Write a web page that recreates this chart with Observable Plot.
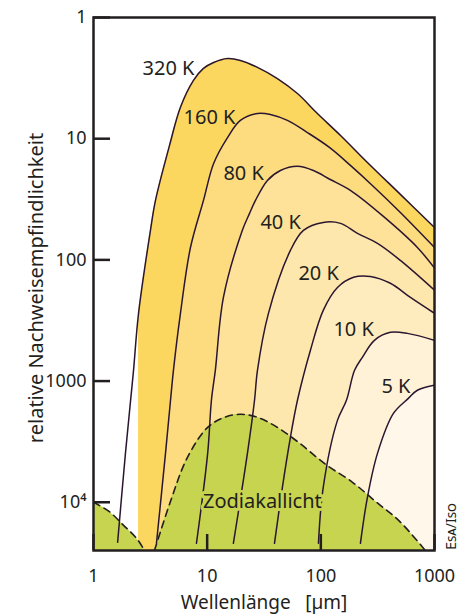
<!DOCTYPE html>
<html>
<head>
<meta charset="utf-8">
<script src="https://cdn.jsdelivr.net/npm/d3@7"></script>
<script src="https://cdn.jsdelivr.net/npm/@observablehq/plot@0.6"></script>
<style>
  html, body { margin: 0; padding: 0; background: #ffffff; }
  svg { display: block; }
</style>
</head>
<body>
<div id="chart"></div>
<script>
// Wavelength (µm) and relative detection sensitivity for black bodies
const tempLabels = ["320 K", "160 K", "80 K", "40 K", "20 K", "10 K", "5 K"];

const curve320 = [[1.63, 21400], [1.91, 3950], [2.12, 1440], [2.25, 815], [2.49, 276], [3.17, 57], [3.51, 32.3],
  [4.66, 11.4], [5.82, 5.5], [7.58, 3.3], [9.28, 2.63], [11.4, 2.35], [15.1, 2.18], [19.6, 2.26], [27.7, 2.58],
  [41.5, 3.19], [62.3, 4.24], [93.3, 6.2], [149, 9.4], [257, 15.7], [501, 28.8], [1000, 54]];
const curve160 = [[3.58, 21800], [4.30, 3950], [4.76, 1440], [5.05, 815], [5.82, 276], [7.13, 79], [9.28, 32.3],
  [11.4, 16.0], [15.1, 9.8], [19.6, 7.07], [27.7, 6.19], [36.0, 6.31], [50.8, 7.07], [76.2, 8.9], [119, 11.8],
  [182, 16.6], [284, 24.3], [501, 40.6], [1000, 79]];
const curve80 = [[8.05, 21800], [10.1, 3950], [10.9, 1440], [11.8, 815], [13.9, 204], [20.4, 57], [23.6, 41.3],
  [26.6, 32.3], [33.9, 22.1], [44.1, 18.3], [62.3, 16.9], [86.1, 18.3], [121, 21.7], [182, 26.7], [355, 43.8],
  [707, 79], [1000, 117]];
const curve40 = [[17.0, 21800], [22.6, 3950], [26.1, 1440], [27.7, 815], [34.6, 276], [54.0, 83.5], [70.3, 57.1],
  [105, 49.1], [149, 50.0], [210, 60.5], [315, 73.1], [501, 101], [1000, 178]];
const curve20 = [[39.1, 21800], [45.9, 7520], [54.0, 2910], [62.3, 1440], [81.0, 557], [105, 261], [140, 169],
  [194, 139], [273, 137], [409, 156], [614, 204], [1000, 276]];
const curve10 = [[95.3, 21800], [105, 7520], [140, 2110], [168, 1440], [198, 815], [232, 637], [296, 461],
  [409, 396], [578, 404], [1000, 461]];
const curve5 = [[223, 21800], [257, 9100], [315, 3950], [435, 1850], [589, 1390], [707, 1190], [1000, 1080]];

const curves = [curve320, curve160, curve80, curve40, curve20, curve10, curve5];

// Zodiacal light background
const zodiLeft = [[1, 10000], [1.37, 11900], [1.84, 15500], [2.39, 19800], [2.81, 25000]];
const zodiHump = [[3.44, 25000], [4.76, 9820], [6.71, 4260], [10.1, 2410], [14.2, 1990], [19.6, 1880], [27.7, 1990],
  [41.5, 2410], [63.5, 3200], [110, 4860], [190, 6840], [302, 9820], [491, 14300], [831, 25000]];
const zodiName = "Zodiakallicht";

// Axis ticks
const xTicks = [1, 10, 100, 1000];
const xTickLabels = ["1", "10", "100", "1000"];
const yTicks = [1, 10, 100, 1000, 10000];
const yTickLabels = ["1", "10", "100", "1000", "10⁴"];

const yBottom = 25000;   // lower end of the sensitivity axis
const fillCutoff = 2.4;  // the warmest band is only shaded from here on

// Annotation anchors (wavelength, sensitivity)
const labelLambda = [2.7, 6.2, 13.9, 29.4, 63.5, 129, 341];
const labelValue = [2.63, 6.68, 19.4, 49.1, 129, 374, 1100];
const zodiLabelAt = [30.6, 9820];

const ink = "#231f20";
const lineInk = "#2b1631";
const green = "#c7d44f";
const fills = ["#fcd760", "#fddc80", "#fee299", "#fee7ac", "#feecbf", "#fff2d7", "#fff8ea"];

const X = d => d[0], Y = d => d[1];
const xLabel = new Map(xTicks.map((t, i) => [t, xTickLabels[i]]));
const yLabel = new Map(yTicks.map((t, i) => [t, yTickLabels[i]]));

const marks = [];
curves.forEach((c, i) => {
  const pts = i === 0 ? c.filter(d => d[0] >= fillCutoff) : c;
  marks.push(Plot.area(pts, {x1: X, y1: Y, y2: yBottom, fill: fills[i], curve: "catmull-rom", clip: true}));
});
marks.push(Plot.area(zodiLeft, {x1: X, y1: Y, y2: yBottom, fill: green, curve: "catmull-rom", clip: true}));
marks.push(Plot.area(zodiHump, {x1: X, y1: Y, y2: yBottom, fill: green, curve: "catmull-rom", clip: true}));
curves.forEach(c => {
  marks.push(Plot.line(c, {x: X, y: Y, stroke: lineInk, strokeWidth: 1.5, curve: "catmull-rom", clip: true}));
});
marks.push(Plot.line(zodiLeft, {x: X, y: Y, stroke: ink, strokeWidth: 1.6, strokeDasharray: "7,5", curve: "catmull-rom", clip: true}));
marks.push(Plot.line(zodiHump, {x: X, y: Y, stroke: ink, strokeWidth: 1.6, strokeDasharray: "7,5", curve: "catmull-rom", clip: true}));

marks.push(Plot.text([zodiName], {
  x: () => zodiLabelAt[0], y: () => zodiLabelAt[1], text: d => d,
  fontSize: 20, fill: ink, stroke: green, strokeWidth: 6, paintOrder: "stroke"
}));
marks.push(Plot.text(tempLabels, {
  x: (d, i) => labelLambda[i], y: (d, i) => labelValue[i], text: d => d,
  textAnchor: "start", fontSize: 20, fill: ink
}));

marks.push(Plot.axisX(xTicks, {
  anchor: "bottom", tickSize: -16, tickPadding: 35, strokeWidth: 2.5, stroke: ink,
  fontSize: 18, fill: ink, label: null, tickFormat: d => xLabel.get(d)
}));
marks.push(Plot.axisY(yTicks, {
  anchor: "left", tickSize: -17, tickPadding: 24, strokeWidth: 2.5, stroke: ink,
  fontSize: 18, fill: ink, label: null, tickFormat: d => yLabel.get(d)
}));
marks.push(Plot.frame({stroke: ink, strokeWidth: 2.5}));

marks.push(Plot.text(["Wellenlänge\u2002\u00a0[µm]"], {
  frameAnchor: "bottom", dy: 52, textAnchor: "middle", lineAnchor: "middle", fontSize: 19, fill: ink
}));
marks.push(Plot.text(["relative Nachweisempfindlichkeit"], {
  frameAnchor: "left", dx: -57, dy: 4, rotate: -90, textAnchor: "middle", lineAnchor: "middle", fontSize: 20, fill: ink
}));
marks.push(Plot.text(["Esa/Iso"], {
  frameAnchor: "bottom-right", dx: 17, dy: -24, rotate: -90, textAnchor: "middle", lineAnchor: "middle",
  fontSize: 14, fontVariant: "small-caps", fill: ink
}));

const chart = Plot.plot({
  width: 475,
  height: 616,
  marginLeft: 93,
  marginRight: 41,
  marginTop: 17,
  marginBottom: 66,
  x: {type: "log", domain: [1, 1000]},
  y: {type: "log", domain: [1, yBottom], reverse: true},
  style: {fontFamily: "'Noto Sans', 'Open Sans', sans-serif", fontSize: "18px", color: ink, background: "#ffffff"},
  marks
});
document.getElementById("chart").appendChild(chart);
</script>
</body>
</html>
